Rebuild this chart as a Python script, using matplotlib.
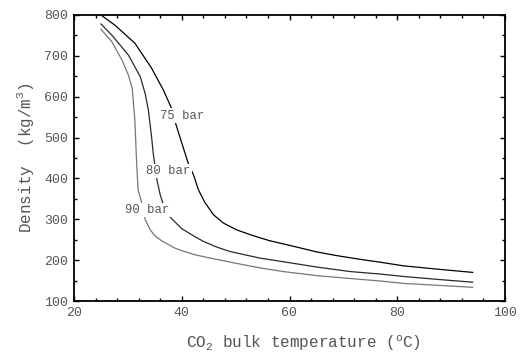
import numpy as np
import matplotlib
matplotlib.use('Agg')
import matplotlib.pyplot as plt
from matplotlib.ticker import MultipleLocator

t_75 = [25.0, 27.6, 31.3, 34.4, 36.6, 38.1, 38.9, 41.2, 42.2, 43.1, 44.3, 45.9,
        47.7, 50.2, 53.0, 56.2, 60.7, 65.1, 68.8, 73.1, 76.8, 81.2, 87.4, 94.0]
rho_75 = [800, 775, 731, 670, 616, 572, 533, 437, 408, 372, 341, 311,
          291, 274, 261, 248, 234, 220, 211, 202, 195, 186, 178, 170]

t_80 = [25.0, 27.0, 30.1, 32.3, 33.2, 33.8, 34.4, 34.7, 35.4, 36.0, 36.6, 37.8,
        40.0, 42.5, 44.0, 46.5, 49.0, 54.5, 58.9, 65.1, 71.3, 76.8, 81.2, 87.4, 94.0]
rho_80 = [778, 751, 702, 649, 608, 568, 502, 462, 396, 360, 335, 306,
          277, 257, 246, 232, 221, 205, 196, 183, 172, 166, 160, 153, 146]

t_90 = [25.0, 27.0, 28.9, 30.1, 30.8, 31.3, 31.6, 31.9, 32.6, 33.2, 34.1, 35.0,
        36.3, 38.8, 40.3, 42.5, 45.3, 50.2, 54.5, 58.9, 65.1, 71.3, 76.8, 81.2,
        87.4, 94.0]
rho_90 = [765, 735, 690, 653, 621, 543, 445, 372, 339, 300, 275, 260,
          247, 229, 222, 213, 205, 192, 181, 172, 162, 155, 149, 143,
          138.5, 133.5]

labels = ['75 bar', '80 bar', '90 bar']
label_t = [40.1, 37.5, 33.6]
label_rho = [554, 418, 323]

plt.rcParams['font.family'] = ['Liberation Mono', 'DejaVu Sans Mono']
plt.rcParams['mathtext.fontset'] = 'custom'
plt.rcParams['mathtext.rm'] = 'Liberation Mono'
plt.rcParams['mathtext.it'] = 'Liberation Mono'
plt.rcParams['mathtext.bf'] = 'Liberation Mono'
plt.rcParams['mathtext.tt'] = 'Liberation Mono'
plt.rcParams['mathtext.sf'] = 'Liberation Mono'
plt.rcParams['mathtext.cal'] = 'Liberation Mono'

txt = '#555555'

fig = plt.figure(figsize=(5.22, 3.53), dpi=100)
ax = fig.add_axes([74 / 522, 1 - 301 / 353, 431 / 522, 286 / 353])

ax.plot(t_75, rho_75, color='black', lw=0.9, zorder=2)
ax.plot(t_80, rho_80, color='#2a2a2a', lw=0.9, zorder=2)
ax.plot(t_90, rho_90, color='#777777', lw=0.9, zorder=2)

for lab, x, y in zip(labels, label_t, label_rho):
    ax.text(x, y, lab, fontsize=8.8, color=txt, ha='center', va='center', zorder=3,
            bbox=dict(facecolor='white', edgecolor='none', pad=1.0))

ax.set_xlim(20, 100)
ax.set_ylim(100, 800)
ax.xaxis.set_major_locator(MultipleLocator(20))
ax.xaxis.set_minor_locator(MultipleLocator(4))
ax.yaxis.set_major_locator(MultipleLocator(100))
ax.yaxis.set_minor_locator(MultipleLocator(50))
ax.tick_params(which='both', direction='in', top=True, right=True, labelsize=9.5,
               labelcolor=txt, width=1.0)
ax.tick_params(which='major', length=3.5, pad=4)
ax.tick_params(which='minor', length=2)
for s in ax.spines.values():
    s.set_linewidth(1.3)

ax.set_xlabel('CO$_2$ bulk temperature ($^o$C)', fontsize=11.5, color=txt)
ax.set_ylabel('Density  (kg/m$^3$)', fontsize=11.5, color=txt)
ax.xaxis.set_label_coords(0.532, -0.115)
ax.yaxis.set_label_coords(-0.088, 0.5)

fig.savefig('out.png', dpi=100)
